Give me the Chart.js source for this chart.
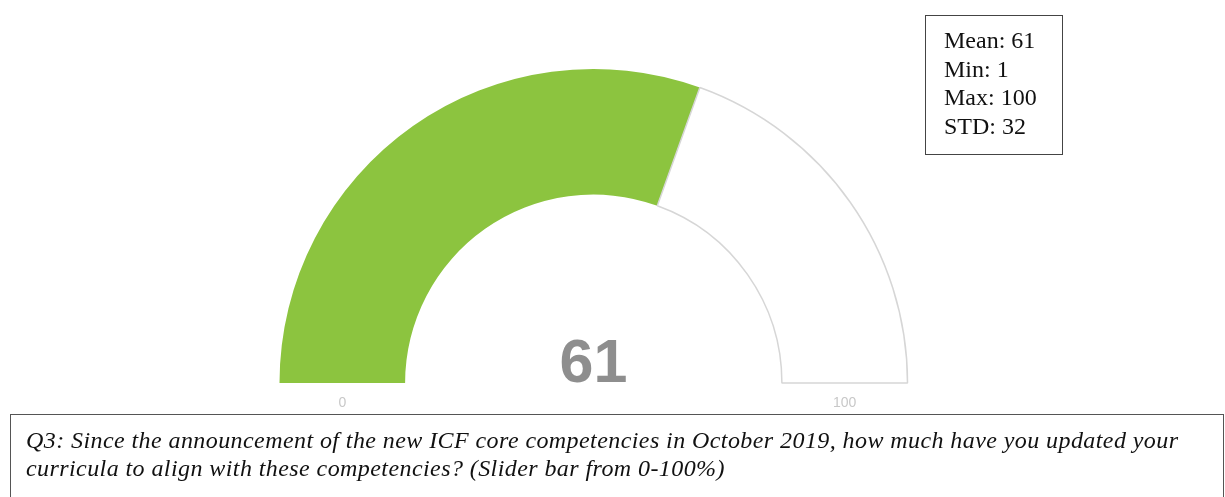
<!DOCTYPE html>
<html>
<head>
<meta charset="utf-8">
<script src="https://cdn.jsdelivr.net/npm/chart.js@4.4.1/dist/chart.umd.min.js"></script>
<style>
  html, body { margin: 0; padding: 0; background: #fff; }
  #wrap { position: relative; width: 1225px; height: 497px; overflow: hidden; }
  #gauge { position: absolute; left: 0; top: 0; filter: blur(0.5px); }
  #stats {
    position: absolute; left: 925px; top: 15px; width: 138px; height: 140px;
    border: 1.5px solid #444; box-sizing: border-box;
    font-family: "Liberation Serif", "Times New Roman", serif; font-size: 24px;
    line-height: 28.5px; color: #111; padding: 10px 0 0 18px;
  }
  #caption {
    position: absolute; left: 10px; top: 414px; width: 1214px; height: 100px;
    border: 1.5px solid #555; box-sizing: border-box;
    font-family: "Liberation Serif", "Times New Roman", serif; font-style: italic;
    font-size: 24px; letter-spacing: 0.42px; line-height: 28px; color: #111;
    padding: 11px 0 0 15px; white-space: nowrap;
  }
</style>
</head>
<body>
<div id="wrap">
  <canvas id="gauge" width="1225" height="497"></canvas>
  <div id="stats"></div>
  <div id="caption"></div>
</div>
<script>
// gauge data
const gaugeMin = 0;
const gaugeMax = 100;
const gaugeValue = 61;
const statLabels = ["Mean", "Min", "Max", "STD"];
const statValues = [61, 1, 100, 32];
const questionLines = [
  "Q3: Since the announcement of the new ICF core competencies in October 2019, how much have you updated your",
  "curricula to align with these competencies? (Slider bar from 0-100%)"
];

const green = "#8cc43f";

document.getElementById("stats").innerHTML =
  statLabels.map((l, i) => `${l}: ${statValues[i]}`).join("<br>");
document.getElementById("caption").innerText = questionLines.join("\n");

// writes the value in the middle and the min/max under the ring ends
const gaugeText = {
  id: "gaugeText",
  afterDraw(chart) {
    const arc = chart.getDatasetMeta(0).data[0];
    if (!arc) return;
    const { x, y, innerRadius, outerRadius } = arc.getProps(["x", "y", "innerRadius", "outerRadius"], true);
    const ctx = chart.ctx;
    const mid = (innerRadius + outerRadius) / 2;
    ctx.save();
    ctx.textAlign = "center";
    ctx.fillStyle = "#c8c8c8";
    ctx.font = "14px 'Liberation Sans', Arial, sans-serif";
    ctx.textBaseline = "middle";
    ctx.fillText(String(gaugeMin), x - mid, y + 20);
    ctx.fillText(String(gaugeMax), x + mid, y + 20);
    ctx.fillStyle = "#8e8e8e";
    ctx.font = "bold 61px 'Liberation Sans', Arial, sans-serif";
    ctx.textBaseline = "alphabetic";
    ctx.fillText(String(gaugeValue), x, y - 1);
    ctx.restore();
  }
};

new Chart(document.getElementById("gauge"), {
  type: "doughnut",
  data: {
    labels: ["value", "rest"],
    datasets: [{
      data: [gaugeValue - gaugeMin, gaugeMax - gaugeValue],
      backgroundColor: [green, "#ffffff"],
      borderColor: [green, "#d6d6d6"],
      borderWidth: [0, 1.5],
      hoverOffset: 0
    }]
  },
  options: {
    responsive: false,
    animation: false,
    rotation: -90,
    circumference: 180,
    cutout: "60%",
    radius: 314,
    layout: { padding: { left: 279.5, right: 317.5, top: 69, bottom: 114 } },
    plugins: { legend: { display: false }, tooltip: { enabled: false } },
    events: []
  },
  plugins: [gaugeText]
});
</script>
</body>
</html>
